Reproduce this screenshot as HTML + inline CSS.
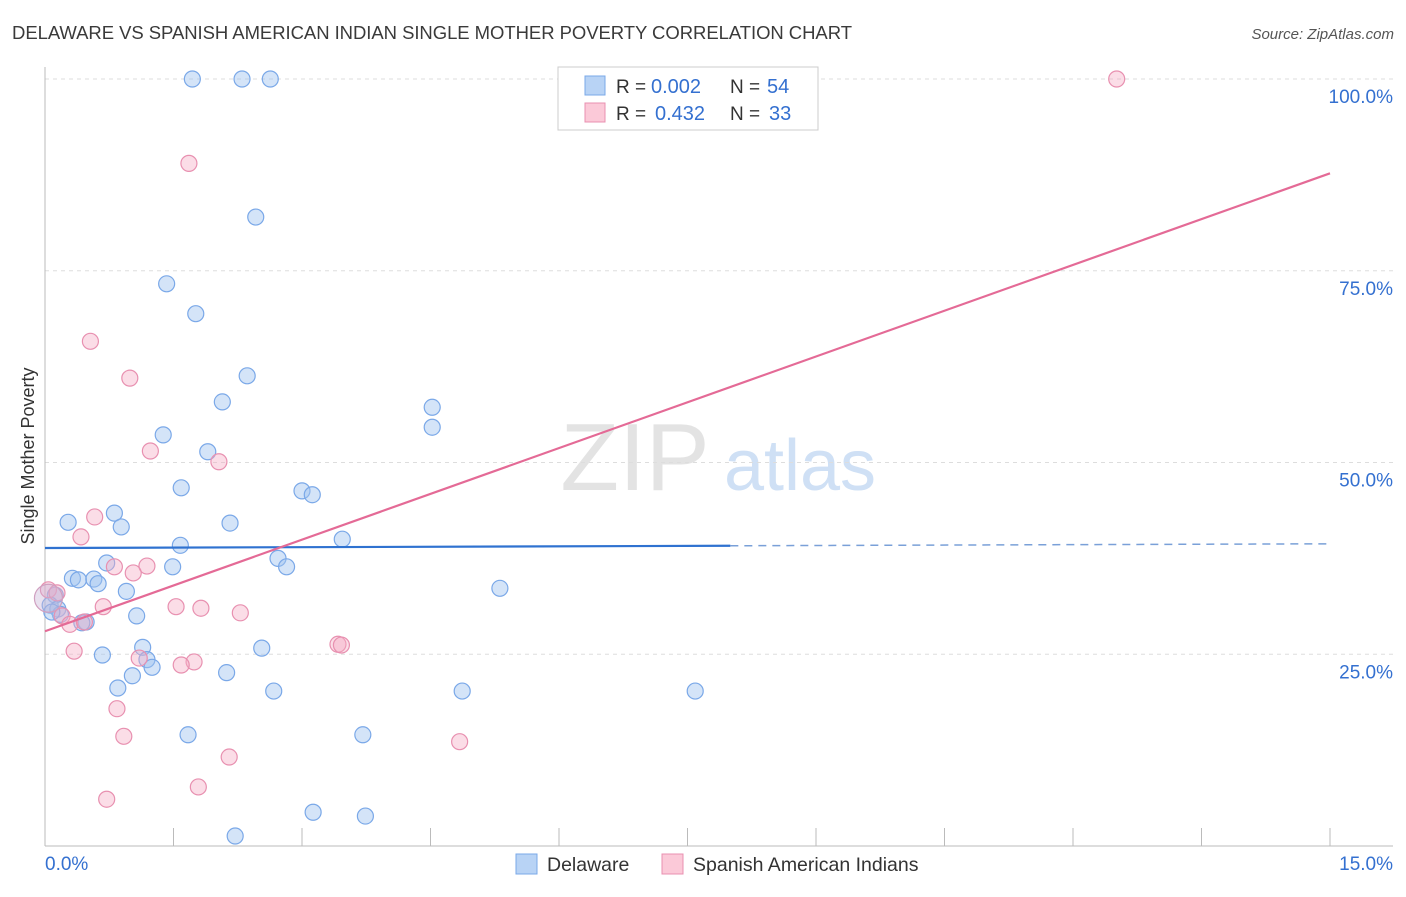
<!DOCTYPE html>
<html><head><meta charset="utf-8"><style>
body{margin:0;background:#fff;font-family:"Liberation Sans",sans-serif;}
svg text{font-family:"Liberation Sans",sans-serif;}
</style></head><body>
<svg id="chart" width="1406" height="892" xmlns="http://www.w3.org/2000/svg">
<text x="12" y="39" font-size="18.5" fill="#3a3a3a" textLength="840">DELAWARE VS SPANISH AMERICAN INDIAN SINGLE MOTHER POVERTY CORRELATION CHART</text>
<text x="1394" y="39" font-size="15" fill="#555" text-anchor="end" font-style="italic">Source: ZipAtlas.com</text>
<g>
<text x="635" y="490" font-size="96" fill="#ddd" text-anchor="middle" font-family="Liberation Serif" opacity="0.8">ZIP</text>
<text x="800" y="490" font-size="72" fill="#cfe0f5" text-anchor="middle">atlas</text>
</g>
<g id="grid"></g>
<g id="axes"></g>
<g id="marks"></g>
<text transform="translate(34,456) rotate(-90)" font-size="18" fill="#333" text-anchor="middle">Single Mother Poverty</text>
<g>
<rect x="558" y="67" width="260" height="63" fill="#fff" stroke="#ccc"/>
<rect x="585" y="76" width="20" height="19" fill="#b8d3f5" stroke="#7aa8e8"/>
<rect x="585" y="103" width="20" height="19" fill="#fbc9d8" stroke="#e890b0"/>
<text x="616" y="93" font-size="19" fill="#333">R =</text>
<text x="651" y="93" font-size="20" fill="#3470d0">0.002</text>
<text x="730" y="93" font-size="19" fill="#333">N =</text>
<text x="767" y="93" font-size="20" fill="#3470d0">54</text>
<text x="616" y="120" font-size="19" fill="#333">R =</text>
<text x="655" y="120" font-size="20" fill="#3470d0">0.432</text>
<text x="730" y="120" font-size="19" fill="#333">N =</text>
<text x="769" y="120" font-size="20" fill="#3470d0">33</text>
</g>
<g>
<rect x="516" y="854" width="21" height="20" fill="#b8d3f5" stroke="#7aa8e8"/>
<text x="547" y="871" font-size="19.5" fill="#333">Delaware</text>
<rect x="662" y="854" width="21" height="20" fill="#fbc9d8" stroke="#e890b0"/>
<text x="693" y="871" font-size="19.5" fill="#333">Spanish American Indians</text>
</g>
</svg>
<script>
const xTicks=[0,1.5,3,4.5,6,7.5,9,10.5,12,13.5,15];
const yTicks=[25,50,75,100];
const yTickLabels=["25.0%","50.0%","75.0%","100.0%"];
const delX=[1.72,2.30,2.63,2.46,1.42,1.76,2.36,2.07,4.52,4.52,1.38,1.90,1.59,3.00,3.12,0.81,0.27,0.89,2.16,3.47,1.58,2.72,0.72,1.49,2.82,0.32,0.39,0.57,0.62,0.95,5.31,0.12,0.06,0.15,0.18,1.07,0.08,0.48,0.43,1.14,2.53,0.67,1.19,1.25,1.02,2.12,0.85,2.67,4.87,7.59,1.67,3.71,3.13,3.74,2.22];
const delY=[100,100,100,82.0,73.3,69.4,61.3,57.9,57.2,54.6,53.6,51.4,46.7,46.3,45.8,43.4,42.2,41.6,42.1,40.0,39.2,37.5,36.9,36.4,36.4,34.9,34.7,34.8,34.2,33.2,33.6,32.7,31.4,30.9,30.2,30.0,30.5,29.2,29.1,25.9,25.8,24.9,24.3,23.3,22.2,22.6,20.6,20.2,20.2,20.2,14.5,14.5,4.4,3.9,1.3];
const spaX=[12.51,1.68,0.53,0.99,1.23,2.03,0.58,0.42,0.81,1.19,1.03,0.04,0.14,0.68,1.53,1.82,2.28,0.20,0.29,0.46,3.42,3.46,0.34,1.10,1.74,1.59,0.84,0.92,4.84,2.15,0.72,1.79];
const spaY=[100,89.0,65.8,61.0,51.5,50.1,42.9,40.3,36.4,36.5,35.6,33.4,33.0,31.2,31.2,31.0,30.4,30.0,28.9,29.2,26.3,26.2,25.4,24.5,24.0,23.6,17.9,14.3,13.6,11.6,6.1,7.7];
const delTrend=[38.85,39.4];
const spaTrend=[28.0,87.7];
const delSolidEnd=8.0;
const X=v=>45+v*(1285/15);
const Y=v=>846-v*7.67;
const NS="http://www.w3.org/2000/svg";
function mk(tag,attrs,parent){const e=document.createElementNS(NS,tag);for(const k in attrs)e.setAttribute(k,attrs[k]);document.getElementById(parent).appendChild(e);return e;}
yTicks.forEach((t,i)=>{
 const g=mk('line',{x1:45,x2:1393,y1:Y(t),y2:Y(t),stroke:'#ddd','stroke-dasharray':'4,4'},'grid');
 
 
 const l=mk('text',{x:1393,y:Y(t)+24,'font-size':19,fill:'#3470d0','text-anchor':'end'},'axes');
 l.textContent=yTickLabels[i];
 
 
});
mk('line',{x1:45,x2:45,y1:67,y2:846,stroke:'#bbb'},'axes');
mk('line',{x1:45,x2:1393,y1:846,y2:846,stroke:'#bbb'},'axes');
xTicks.forEach(t=>{
 const tk=mk('line',{x1:X(t),x2:X(t),y1:828,y2:846,stroke:'#bbb'},'axes');
 
 
});
const x0=mk('text',{x:45,y:870,'font-size':19,fill:'#3470d0'},'axes');x0.textContent='0.0%';


const x1=mk('text',{x:1393,y:870,'font-size':19,fill:'#3470d0','text-anchor':'end'},'axes');x1.textContent='15.0%';


delX.forEach((v,i)=>{
 const c=mk('circle',{cx:X(v),cy:Y(delY[i]),r:8,fill:'rgba(160,195,240,0.45)',stroke:'#7aa8e8','stroke-width':1.2},'marks');
 
 
});
spaX.forEach((v,i)=>{
 const c=mk('circle',{cx:X(v),cy:Y(spaY[i]),r:8,fill:'rgba(245,170,195,0.4)',stroke:'#e890b0','stroke-width':1.2},'marks');
 
 
});
const big=mk('circle',{cx:X(0.04),cy:Y(32.3),r:14,fill:'rgba(200,180,215,0.4)',stroke:'#d0a0c0','stroke-width':1.2},'marks');


const slope=(delTrend[1]-delTrend[0])/15;
const dl=mk('line',{x1:X(0),y1:Y(delTrend[0]),x2:X(delSolidEnd),y2:Y(delTrend[0]+slope*delSolidEnd),stroke:'#2f72d0','stroke-width':2.2},'marks');


const dd=mk('line',{x1:X(delSolidEnd),y1:Y(delTrend[0]+slope*delSolidEnd),x2:X(15),y2:Y(delTrend[1]),stroke:'#7aa0d8','stroke-width':1.5,'stroke-dasharray':'8,6'},'marks');


const pl=mk('line',{x1:X(0),y1:Y(spaTrend[0]),x2:X(15),y2:Y(spaTrend[1]),stroke:'#e46a96','stroke-width':2.2},'marks');


</script>
</body></html>
